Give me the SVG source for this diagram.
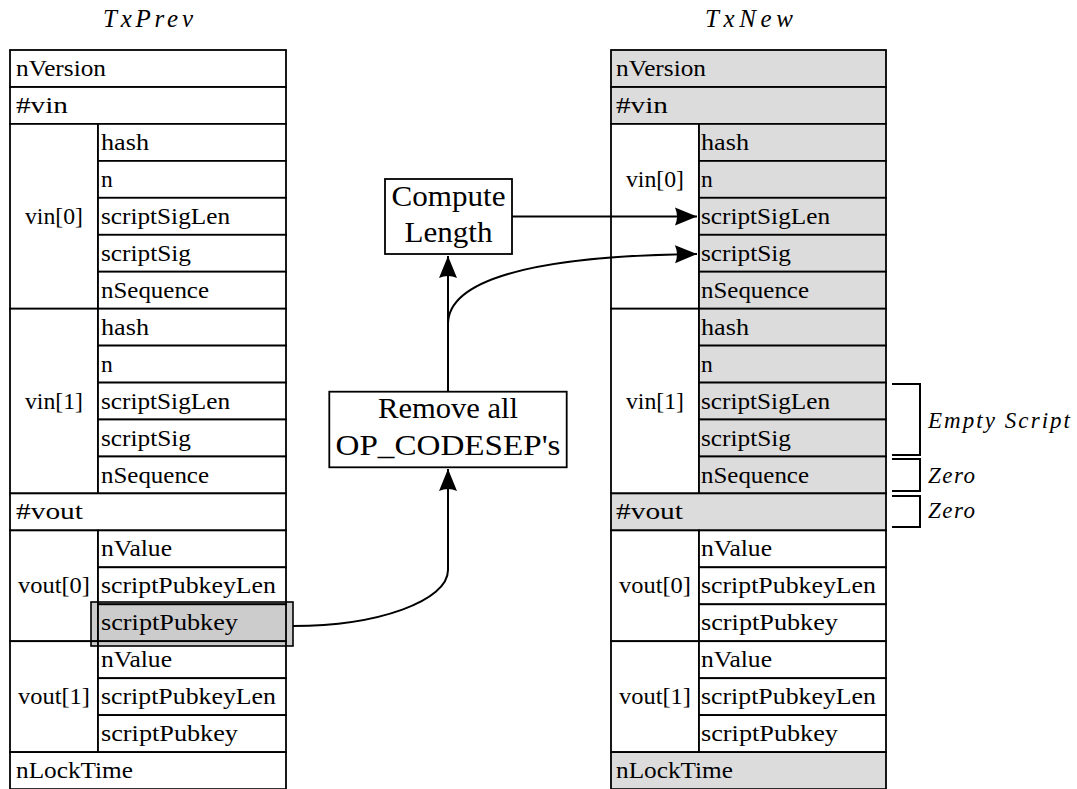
<svg xmlns="http://www.w3.org/2000/svg" width="1077" height="789" viewBox="0 0 1077 789">
<style>
.c{fill:#fff;stroke:#000;stroke-width:1.8}
.s{fill:#dcdcdc;stroke:#000;stroke-width:1.8}
.t{font-family:"Liberation Serif","Times New Roman",serif;font-size:23.5px;fill:#000}
.m{text-anchor:middle}
.b{font-family:"Liberation Serif","Times New Roman",serif;font-size:29.5px;fill:#000;text-anchor:middle}
.i{font-family:"Liberation Serif","Times New Roman",serif;font-style:italic;font-size:23px;fill:#000}
.ti{font-family:"Liberation Serif","Times New Roman",serif;font-style:italic;font-size:25px;fill:#000;text-anchor:middle}
.ln{fill:none;stroke:#000;stroke-width:2}
.br{fill:none;stroke:#000;stroke-width:2}
</style>
<defs>
<marker id="ah" markerUnits="userSpaceOnUse" markerWidth="24" markerHeight="20" refX="22" refY="10" orient="auto" viewBox="0 0 24 20">
<path d="M0,1 L22,10 L0,19 Q4,10 0,1 Z" fill="#000"/>
</marker>
</defs>
<rect width="1077" height="789" fill="#fff"/>

<g id="title-txprev"><text class="ti" x="148" y="27" textLength="90">TxPrev</text></g>
<g id="title-txnew"><text class="ti" x="749" y="27" textLength="88">TxNew</text></g>

<g id="txprev">
<rect class="c" x="10" y="50" width="276" height="37"/>
<rect class="c" x="10" y="87" width="276" height="36.9"/>
<rect class="c" x="10" y="123.9" width="88" height="184.8"/>
<rect class="c" x="98" y="123.9" width="188" height="37"/>
<rect class="c" x="98" y="160.9" width="188" height="36.9"/>
<rect class="c" x="98" y="197.8" width="188" height="37"/>
<rect class="c" x="98" y="234.8" width="188" height="36.9"/>
<rect class="c" x="98" y="271.7" width="188" height="37"/>
<rect class="c" x="10" y="308.7" width="88" height="184.7"/>
<rect class="c" x="98" y="308.7" width="188" height="36.9"/>
<rect class="c" x="98" y="345.6" width="188" height="37"/>
<rect class="c" x="98" y="382.6" width="188" height="36.9"/>
<rect class="c" x="98" y="419.5" width="188" height="37"/>
<rect class="c" x="98" y="456.5" width="188" height="36.9"/>
<rect class="c" x="10" y="493.4" width="276" height="37"/>
<rect class="c" x="10" y="530.4" width="88" height="110.8"/>
<rect class="c" x="98" y="530.4" width="188" height="36.9"/>
<rect class="c" x="98" y="567.3" width="188" height="37"/>
<rect class="c" x="98" y="604.3" width="188" height="36.9"/>
<rect class="c" x="10" y="641.2" width="88" height="110.9"/>
<rect class="c" x="98" y="641.2" width="188" height="37"/>
<rect class="c" x="98" y="678.2" width="188" height="36.9"/>
<rect class="c" x="98" y="715.1" width="188" height="37"/>
<rect class="c" x="10" y="752.1" width="276" height="37"/>
<text class="t" x="16" y="76" textLength="90" lengthAdjust="spacingAndGlyphs">nVersion</text>
<text class="t" x="16" y="113" textLength="52" lengthAdjust="spacingAndGlyphs">#vin</text>
<text class="t m" x="54" y="223.8" textLength="58" lengthAdjust="spacingAndGlyphs">vin[0]</text>
<text class="t" x="101" y="149.9" textLength="48" lengthAdjust="spacingAndGlyphs">hash</text>
<text class="t" x="101" y="186.9">n</text>
<text class="t" x="101" y="223.8" textLength="129" lengthAdjust="spacingAndGlyphs">scriptSigLen</text>
<text class="t" x="101" y="260.8" textLength="90" lengthAdjust="spacingAndGlyphs">scriptSig</text>
<text class="t" x="101" y="297.7" textLength="108" lengthAdjust="spacingAndGlyphs">nSequence</text>
<text class="t m" x="54" y="408.6" textLength="58" lengthAdjust="spacingAndGlyphs">vin[1]</text>
<text class="t" x="101" y="334.7" textLength="48" lengthAdjust="spacingAndGlyphs">hash</text>
<text class="t" x="101" y="371.6">n</text>
<text class="t" x="101" y="408.6" textLength="129" lengthAdjust="spacingAndGlyphs">scriptSigLen</text>
<text class="t" x="101" y="445.5" textLength="90" lengthAdjust="spacingAndGlyphs">scriptSig</text>
<text class="t" x="101" y="482.5" textLength="108" lengthAdjust="spacingAndGlyphs">nSequence</text>
<text class="t" x="16" y="519.4" textLength="67" lengthAdjust="spacingAndGlyphs">#vout</text>
<text class="t m" x="54" y="593.3" textLength="72" lengthAdjust="spacingAndGlyphs">vout[0]</text>
<text class="t" x="101" y="556.4" textLength="71" lengthAdjust="spacingAndGlyphs">nValue</text>
<text class="t" x="101" y="593.3" textLength="175" lengthAdjust="spacingAndGlyphs">scriptPubkeyLen</text>
<text class="t m" x="54" y="704.2" textLength="72" lengthAdjust="spacingAndGlyphs">vout[1]</text>
<text class="t" x="101" y="667.2" textLength="71" lengthAdjust="spacingAndGlyphs">nValue</text>
<text class="t" x="101" y="704.2" textLength="175" lengthAdjust="spacingAndGlyphs">scriptPubkeyLen</text>
<text class="t" x="101" y="741.1" textLength="137" lengthAdjust="spacingAndGlyphs">scriptPubkey</text>
<text class="t" x="16" y="778.1" textLength="117" lengthAdjust="spacingAndGlyphs">nLockTime</text>
</g>

<g id="highlight">
<rect x="91" y="602" width="202" height="44" fill="#000" fill-opacity="0.2" stroke="#000" stroke-width="1.6"/>
<text class="t" x="101" y="630.3" textLength="137" lengthAdjust="spacingAndGlyphs">scriptPubkey</text>
</g>

<g id="txnew">
<rect class="s" x="611" y="50" width="275" height="37"/>
<rect class="s" x="611" y="87" width="275" height="36.9"/>
<rect class="c" x="611" y="123.9" width="88" height="184.8"/>
<rect class="s" x="699" y="123.9" width="187" height="37"/>
<rect class="s" x="699" y="160.9" width="187" height="36.9"/>
<rect class="s" x="699" y="197.8" width="187" height="37"/>
<rect class="s" x="699" y="234.8" width="187" height="36.9"/>
<rect class="s" x="699" y="271.7" width="187" height="37"/>
<rect class="c" x="611" y="308.7" width="88" height="184.7"/>
<rect class="s" x="699" y="308.7" width="187" height="36.9"/>
<rect class="s" x="699" y="345.6" width="187" height="37"/>
<rect class="s" x="699" y="382.6" width="187" height="36.9"/>
<rect class="s" x="699" y="419.5" width="187" height="37"/>
<rect class="s" x="699" y="456.5" width="187" height="36.9"/>
<rect class="s" x="611" y="493.4" width="275" height="37"/>
<rect class="c" x="611" y="530.4" width="88" height="110.8"/>
<rect class="c" x="699" y="530.4" width="187" height="36.9"/>
<rect class="c" x="699" y="567.3" width="187" height="37"/>
<rect class="c" x="699" y="604.3" width="187" height="36.9"/>
<rect class="c" x="611" y="641.2" width="88" height="110.9"/>
<rect class="c" x="699" y="641.2" width="187" height="37"/>
<rect class="c" x="699" y="678.2" width="187" height="36.9"/>
<rect class="c" x="699" y="715.1" width="187" height="37"/>
<rect class="s" x="611" y="752.1" width="275" height="37"/>
<text class="t" x="616" y="76" textLength="90" lengthAdjust="spacingAndGlyphs">nVersion</text>
<text class="t" x="616" y="113" textLength="52" lengthAdjust="spacingAndGlyphs">#vin</text>
<text class="t m" x="655" y="186.9" textLength="58" lengthAdjust="spacingAndGlyphs">vin[0]</text>
<text class="t" x="701" y="149.9" textLength="48" lengthAdjust="spacingAndGlyphs">hash</text>
<text class="t" x="701" y="186.9">n</text>
<text class="t" x="701" y="223.8" textLength="129" lengthAdjust="spacingAndGlyphs">scriptSigLen</text>
<text class="t" x="701" y="260.8" textLength="90" lengthAdjust="spacingAndGlyphs">scriptSig</text>
<text class="t" x="701" y="297.7" textLength="108" lengthAdjust="spacingAndGlyphs">nSequence</text>
<text class="t m" x="655" y="408.6" textLength="58" lengthAdjust="spacingAndGlyphs">vin[1]</text>
<text class="t" x="701" y="334.7" textLength="48" lengthAdjust="spacingAndGlyphs">hash</text>
<text class="t" x="701" y="371.6">n</text>
<text class="t" x="701" y="408.6" textLength="129" lengthAdjust="spacingAndGlyphs">scriptSigLen</text>
<text class="t" x="701" y="445.5" textLength="90" lengthAdjust="spacingAndGlyphs">scriptSig</text>
<text class="t" x="701" y="482.5" textLength="108" lengthAdjust="spacingAndGlyphs">nSequence</text>
<text class="t" x="616" y="519.4" textLength="67" lengthAdjust="spacingAndGlyphs">#vout</text>
<text class="t m" x="655" y="593.3" textLength="72" lengthAdjust="spacingAndGlyphs">vout[0]</text>
<text class="t" x="701" y="556.4" textLength="71" lengthAdjust="spacingAndGlyphs">nValue</text>
<text class="t" x="701" y="593.3" textLength="175" lengthAdjust="spacingAndGlyphs">scriptPubkeyLen</text>
<text class="t" x="701" y="630.3" textLength="137" lengthAdjust="spacingAndGlyphs">scriptPubkey</text>
<text class="t m" x="655" y="704.2" textLength="72" lengthAdjust="spacingAndGlyphs">vout[1]</text>
<text class="t" x="701" y="667.2" textLength="71" lengthAdjust="spacingAndGlyphs">nValue</text>
<text class="t" x="701" y="704.2" textLength="175" lengthAdjust="spacingAndGlyphs">scriptPubkeyLen</text>
<text class="t" x="701" y="741.1" textLength="137" lengthAdjust="spacingAndGlyphs">scriptPubkey</text>
<text class="t" x="616" y="778.1" textLength="117" lengthAdjust="spacingAndGlyphs">nLockTime</text>
</g>

<g id="compute-length">
<rect class="c" x="385" y="179" width="127" height="75"/>
<text class="b" x="448.5" y="205.7" textLength="114" lengthAdjust="spacingAndGlyphs">Compute</text>
<text class="b" x="448.5" y="241.7" textLength="88" lengthAdjust="spacingAndGlyphs">Length</text>
</g>

<g id="remove-codesep">
<rect class="c" x="329.3" y="391.7" width="237.4" height="75.6"/>
<text class="b" x="448" y="418.3" textLength="140" lengthAdjust="spacingAndGlyphs">Remove all</text>
<text class="b" x="448" y="455" textLength="225" lengthAdjust="spacingAndGlyphs">OP_CODESEP's</text>
</g>

<g id="connectors">
<path class="ln" d="M293,626 C378,626 448,601 448,570 L448,469" marker-end="url(#ah)"/>
<path class="ln" d="M448,391.7 L448,256" marker-end="url(#ah)"/>
<path class="ln" d="M448,324 C448,282 525,256 697,254" marker-end="url(#ah)"/>
<path class="ln" d="M512,216.5 L697,216.5" marker-end="url(#ah)"/>
</g>

<g id="annotations">
<path class="br" d="M892,384 H920 V455 H892"/>
<path class="br" d="M892,459 H920 V491 H892"/>
<path class="br" d="M892,496 H920 V527 H892"/>
<text class="i" x="928" y="428" textLength="142">Empty Script</text>
<text class="i" x="928" y="483" textLength="47">Zero</text>
<text class="i" x="928" y="518" textLength="47">Zero</text>
</g>
</svg>
